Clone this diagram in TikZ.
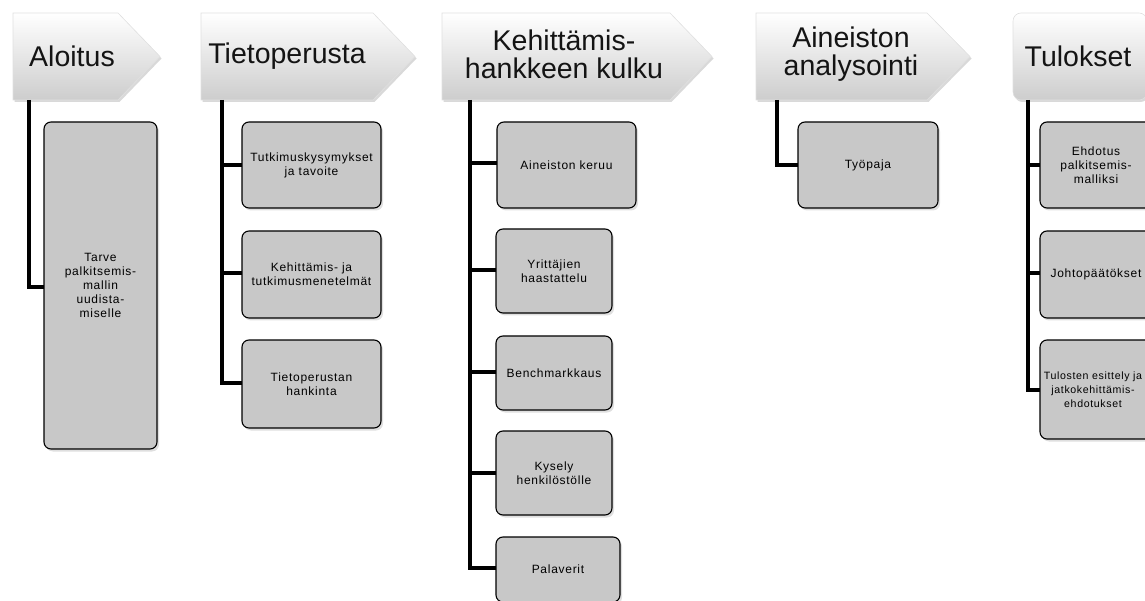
\documentclass[tikz,border=0pt]{standalone}
\usepackage{fontspec}
\setmainfont{Liberation Sans}
\newfontfamily\boxfontfam[LetterSpace=6]{Liberation Sans}
\usetikzlibrary{shadows}
\definecolor{boxgray}{RGB}{200,200,200}
\definecolor{hdrlow}{RGB}{205,205,205}
\tikzset{
  hdrshape/.style={top color=white, bottom color=hdrlow, draw=black!12, line width=0.6pt,
    drop shadow={shadow xshift=1.5pt, shadow yshift=-2pt, opacity=0.3}},
  hdrtext/.style={font=\fontsize{28.5}{28}\selectfont, text=black!92, align=center, inner sep=0pt},
  sub/.style={draw=black, line width=1.1pt, fill=boxgray, rounded corners=7pt, align=center,
    font=\boxfontfam\fontsize{12}{14}\selectfont, text=black, inner sep=0pt,
    drop shadow={shadow xshift=2pt, shadow yshift=-2.5pt, opacity=0.25}},
  conn/.style={line width=3.6pt, black, line join=miter},
}
\begin{document}
\begin{tikzpicture}[x=1pt, y=-1pt]
\useasboundingbox (0,0) rectangle (1145,601);
\clip (0,0) rectangle (1145,601);

% phase headers
\path[hdrshape] (13,13) -- (118,13) -- (160,56.5) -- (118,100) -- (13,100) -- cycle;
\path[hdrshape] (201,13) -- (373,13) -- (415,56.5) -- (373,100) -- (201,100) -- cycle;
\path[hdrshape] (442,13) -- (670,13) -- (712,56.5) -- (670,100) -- (442,100) -- cycle;
\path[hdrshape] (756,13) -- (927,13) -- (970,56.5) -- (927,100) -- (756,100) -- cycle;
\path[hdrshape, rounded corners=8pt] (1013,13) rectangle (1147,100);

\node[hdrtext] (h1) at (72,56) {Aloitus};
\node[hdrtext] (h2) at (287,56) {Tietoperusta};
\node[hdrtext] (h3) at (564,54) {Kehittämis-\\hankkeen kulku};
\node[hdrtext] (h4) at (851,54) {Aineiston\\analysointi};
\node[hdrtext] (h5) at (1078,56) {Tulokset};

% stems leave each header at its lower edge
\coordinate (c1) at (29,100);
\coordinate (c2) at (222,100);
\coordinate (c3) at (470,100);
\coordinate (c4) at (777,100);
\coordinate (c5) at (1028,100);

% connectors (drawn first, boxes sit on top)
\coordinate (a1w) at (44,287);
\draw[conn] (c1) |- (a1w);
\draw[conn] (c2) |- (242,165) (c2) |- (242,273) (c2) |- (242,383);
\draw[conn] (c3) |- (497,163) (c3) |- (496,270) (c3) |- (496,372) (c3) |- (496,473) (c3) |- (496,568);
\draw[conn] (c4) |- (798,165);
\draw[conn] (c5) |- (1040,165) (c5) |- (1040,273) (c5) |- (1040,390);

% sub boxes
\node[sub, minimum width=113pt, minimum height=327pt] (a1) at (100.5,285.5)
  {Tarve\\palkitsemis-\\mallin\\uudista-\\miselle};

\node[sub, minimum width=139pt, minimum height=86pt] (t1) at (311.5,165)
  {Tutkimuskysymykset\\ja tavoite};
\node[sub, minimum width=139pt, minimum height=87pt] (t2) at (311.5,274.5)
  {Kehittämis- ja\\tutkimusmenetelmät};
\node[sub, minimum width=139pt, minimum height=88pt] (t3) at (311.5,384)
  {Tietoperustan\\hankinta};

\node[sub, minimum width=139pt, minimum height=86pt] (k1) at (566.5,165)
  {Aineiston keruu};
\node[sub, minimum width=116pt, minimum height=84pt] (k2) at (554,271)
  {Yrittäjien\\haastattelu};
\node[sub, minimum width=116pt, minimum height=74pt] (k3) at (554,373)
  {Benchmarkkaus};
\node[sub, minimum width=116pt, minimum height=84pt] (k4) at (554,473)
  {Kysely\\henkilöstölle};
\node[sub, minimum width=124pt, minimum height=65pt] (k5) at (558,569.5)
  {Palaverit};

\node[sub, minimum width=140pt, minimum height=86pt] (p1) at (868,165)
  {Työpaja};

\node[sub, minimum width=112pt, minimum height=86pt] (r1) at (1096,165)
  {Ehdotus\\palkitsemis-\\malliksi};
\node[sub, minimum width=112pt, minimum height=87pt] (r2) at (1096,274.5)
  {Johtopäätökset};
\node[sub, minimum width=112pt, minimum height=99pt] (r3) at (1096,389.5) {};
\node[font=\boxfontfam\fontsize{10.6}{14}\selectfont, align=center, inner sep=0pt] (r3t) at (1093,389.5)
  {Tulosten esittely ja\\jatkokehittämis-\\ehdotukset};
\end{tikzpicture}
\end{document}
